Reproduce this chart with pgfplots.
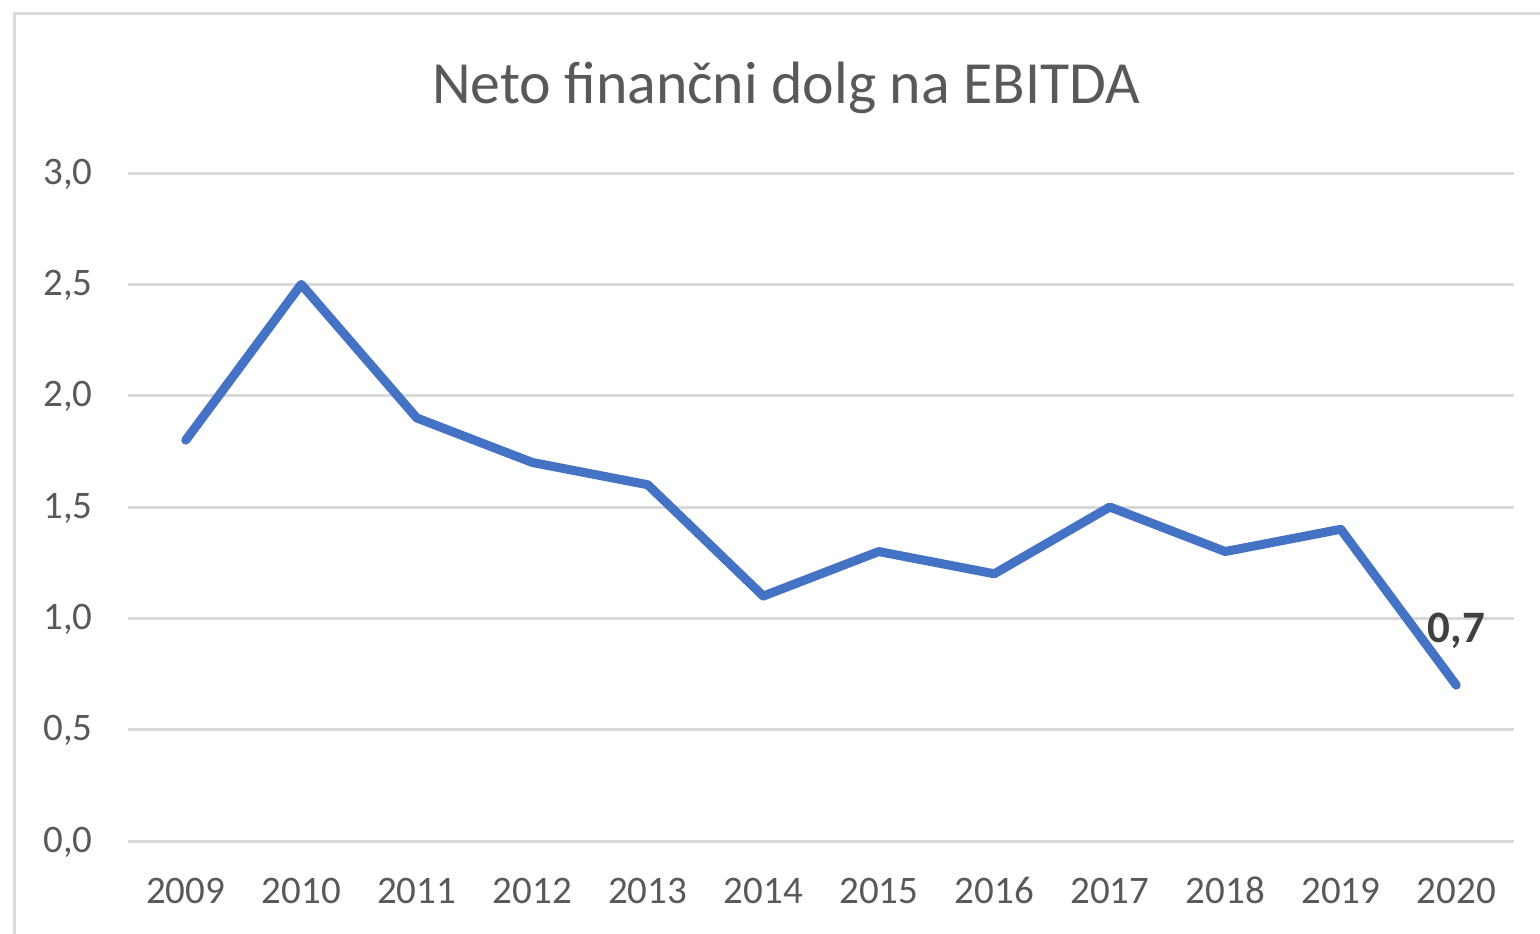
\documentclass[border=0pt]{standalone}
\usepackage{pgfplots}
\pgfplotsset{compat=1.18}
\usepackage{fontspec}
\setmainfont{Carlito}
\definecolor{lineblue}{HTML}{4472C4}
\definecolor{gridgray}{HTML}{D9D9D9}
\definecolor{txtgray}{HTML}{595959}
\definecolor{lblgray}{HTML}{404040}
\begin{document}
\begin{tikzpicture}
\begin{scope}[x=0.5pt,y=0.5pt]
\draw[gridgray, line width=1.5pt] (14,-20) -- (14,919) -- (1560,919);
\node[anchor=base, text=txtgray, inner sep=0pt, font=\fontsize{29.9}{35}\selectfont] at (786,829) {Neto finančni dolg na EBITDA};
\end{scope}
\begin{axis}[
  at={(64pt,46pt)}, anchor=south west,
  scale only axis, width=693pt, height=334pt,
  xmin=-0.5, xmax=11.5, ymin=0, ymax=3,
  clip=false,
  axis line style={draw=none},
  tick style={draw=none},
  major tick length=0pt,
  xtick={0,1,2,3,4,5,6,7,8,9,10,11},
  xticklabels={2009,2010,2011,2012,2013,2014,2015,2016,2017,2018,2019,2020},
  ytick={0,0.5,1,1.5,2,2.5,3},
  ymajorgrids=true,
  grid style={gridgray, line width=1.5pt},
  /pgf/number format/.cd, fixed, fixed zerofill, precision=1, use comma, assume math mode=true,
  /pgfplots/.cd,
  xticklabel style={anchor=base, inner sep=0pt, yshift=-31pt, text=txtgray, font=\fontsize{19.5}{23}\selectfont},
  yticklabel style={anchor=base east, inner sep=0pt, xshift=-17.5pt, yshift=-5.5pt, text=txtgray, font=\fontsize{19.5}{23}\selectfont},
]
\addplot[lineblue, line width=4.5pt, line cap=round, line join=round, mark=none] coordinates {
 (0,1.8) (1,2.5) (2,1.9) (3,1.7) (4,1.6) (5,1.1) (6,1.3) (7,1.2) (8,1.5) (9,1.3) (10,1.4) (11,0.7)
};
\node[anchor=base, inner sep=0pt, yshift=21.5pt, text=lblgray, font=\bfseries\fontsize{22.5}{26}\selectfont] at (axis cs:11,0.7) {0,7};
\end{axis}
\pgfresetboundingbox
\useasboundingbox (0,0) rectangle (770pt,466.5pt);
\end{tikzpicture}
\end{document}
